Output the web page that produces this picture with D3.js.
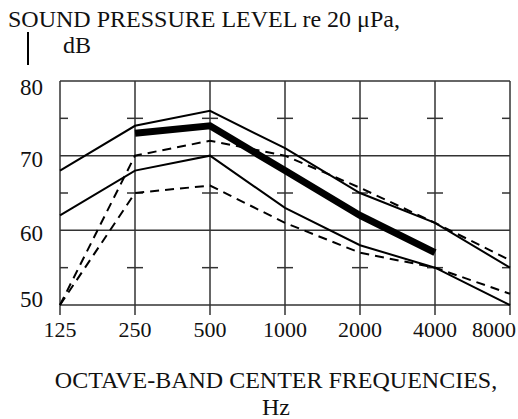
<!DOCTYPE html>
<html>
<head>
<meta charset="utf-8">
<script src="https://cdn.jsdelivr.net/npm/d3@7"></script>
<style>
  body { margin: 0; background: #fff; }
  text { font-family: "Liberation Serif", "Times New Roman", serif; fill: #111; }
</style>
</head>
<body>
<div id="chart"></div>
<script>
// octave band centers
const freqs = ["125", "250", "500", "1000", "2000", "4000", "8000"]
const yTicks = [80, 70, 60, 50]
const yMinor = [75, 65, 55]

// sound pressure levels, dB
const upperSolid = [68, 74, 76, 71, 65, 61, 55]
const lowerSolid = [62, 68, 70, 63, 58, 55, 50]
const thickLine  = [null, 73, 74, 68, 62, 57, null]
const upperDash  = [50, 70, 72, 70, 65.7, 61, 56]
const lowerDash  = [50, 65, 66, 61, 57, 55, 51.5]

const series = [
  {values: upperSolid, width: 2, dash: null},
  {values: lowerSolid, width: 2, dash: null},
  {values: upperDash, width: 2, dash: "9,6"},
  {values: lowerDash, width: 2, dash: "9,6"},
  {values: thickLine, width: 7, dash: null}
]

function main(){
    const width = 518
    const height = 419
    const margin = {top: 81, bottom: 114, left: 60, right: 8}

    const svg = d3.select('#chart')
        .append('svg')
        .attr('width', width)
        .attr('height', height)

    const x = d3.scalePoint()
        .domain(freqs)
        .range([margin.left, width - margin.right])

    const y = d3.scaleLinear()
        .domain([50, 80])
        .range([height - margin.bottom, margin.top])

    const grid = svg.append('g')
        .attr('stroke', '#333')
        .attr('stroke-width', 1.5)
        .attr('fill', 'none')

    // vertical lines, running a little below the bottom as ticks
    grid.selectAll('line.v')
        .data(freqs)
        .join('line')
            .attr('class', 'v')
            .attr('x1', d => x(d))
            .attr('x2', d => x(d))
            .attr('y1', y(80))
            .attr('y2', y(50) + 10)

    // horizontal lines
    grid.selectAll('line.h')
        .data(yTicks)
        .join('line')
            .attr('class', 'h')
            .attr('x1', x(freqs[0]))
            .attr('x2', x(freqs[freqs.length - 1]))
            .attr('y1', d => y(d))
            .attr('y2', d => y(d))

    // small crosses at 5 dB steps
    const crosses = []
    freqs.forEach((f, i) => yMinor.forEach(v => crosses.push({f, v, i})))
    grid.selectAll('line.m')
        .data(crosses)
        .join('line')
            .attr('class', 'm')
            .attr('x1', d => d.i === 0 ? x(d.f) : x(d.f) - 8)
            .attr('x2', d => d.i === freqs.length - 1 ? x(d.f) : x(d.f) + 8)
            .attr('y1', d => y(d.v))
            .attr('y2', d => y(d.v))

    // data lines
    const line = d3.line()
        .defined(d => d != null)
        .x((d, i) => x(freqs[i]))
        .y(d => y(d))

    svg.append('g')
        .selectAll('path')
        .data(series)
        .join('path')
            .attr('d', d => line(d.values))
            .attr('fill', 'none')
            .attr('stroke', '#000')
            .attr('stroke-width', d => d.width)
            .attr('stroke-dasharray', d => d.dash)
            .attr('stroke-linejoin', 'miter')

    // tick labels (last one pulled in so it fits)
    const last = freqs[freqs.length - 1]
    svg.append('g')
        .selectAll('text')
        .data(freqs)
        .join('text')
            .attr('x', d => d === last ? width - 2 : x(d))
            .attr('y', 337)
            .attr('text-anchor', d => d === last ? 'end' : 'middle')
            .attr('font-size', 22)
            .text(d => d)

    svg.append('g')
        .selectAll('text')
        .data(yTicks)
        .join('text')
            .attr('x', 43)
            .attr('y', d => Math.min(Math.max(y(d) + 3, y(80) + 6), y(50) - 6))
            .attr('dy', '0.35em')
            .attr('text-anchor', 'end')
            .attr('font-size', 23)
            .text(d => d)

    // axis titles
    svg.append('text')
        .attr('x', 8)
        .attr('y', 27)
        .attr('font-size', 24)
        .text('SOUND PRESSURE LEVEL re 20 \u03bcPa,')

    svg.append('line')
        .attr('x1', 28).attr('x2', 28)
        .attr('y1', 32).attr('y2', 65)
        .attr('stroke', '#000')
        .attr('stroke-width', 2)

    svg.append('text')
        .attr('x', 63)
        .attr('y', 53)
        .attr('font-size', 24)
        .text('dB')

    svg.append('text')
        .attr('x', 276)
        .attr('y', 388)
        .attr('text-anchor', 'middle')
        .attr('font-size', 24)
        .text('OCTAVE-BAND CENTER FREQUENCIES,')

    svg.append('text')
        .attr('x', 276)
        .attr('y', 415)
        .attr('text-anchor', 'middle')
        .attr('font-size', 24)
        .text('Hz')
}

main()
</script>
</body>
</html>
